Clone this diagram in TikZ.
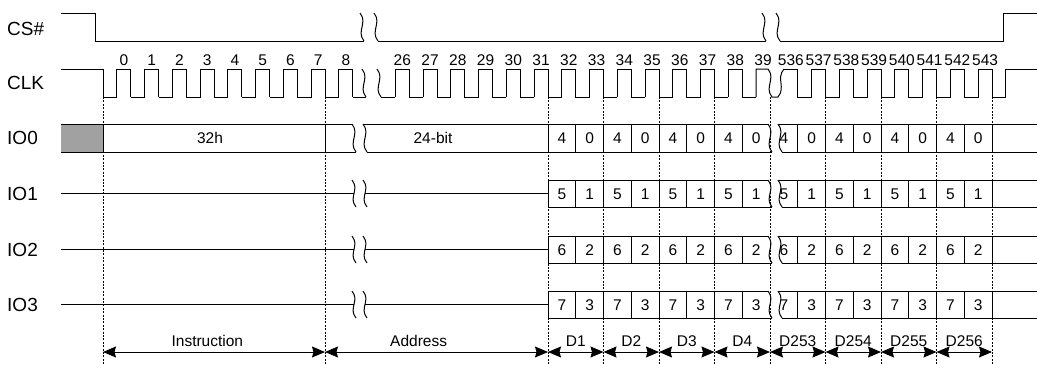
\documentclass[tikz,border=0pt]{standalone}
\usepackage{fontspec}
\setmainfont{Liberation Sans}
\usetikzlibrary{arrows.meta}

% break mark: from (x,top) to (x+4,bottom)
\newcommand{\brk}[3]{\draw[sig] (#1,#2) .. controls +(8,10) and +(-8,-10) .. (#1+4,#3);}

\begin{document}
\begin{tikzpicture}[x=1pt,y=-1pt,
  sig/.style={line width=1pt},
  grid/.style={line width=0.7pt,dash pattern=on 2pt off 1.4pt},
  lbl/.style={anchor=west,inner sep=0pt,font=\fontsize{19}{20}\selectfont},
  num/.style={inner sep=0pt,anchor=base,font=\fontsize{15.5}{16}\selectfont},
  span/.style={line width=1pt,{Stealth[length=13pt,width=11pt,inset=1.5pt]}-{Stealth[length=13pt,width=11pt,inset=1.5pt]}}]
\useasboundingbox (0,0) rectangle (1037,365);

% signal names
\node[lbl] (cs) at (7,29) {CS\#};
\node[lbl] (clk) at (7,83) {CLK};
\node[lbl] (io0) at (7,138) {IO0};
\node[lbl] (io1) at (7,193.5) {IO1};
\node[lbl] (io2) at (7,249.5) {IO2};
\node[lbl] (io3) at (7,304.5) {IO3};

% dotted guides
\foreach \x in {103,325,548,603.5,659,714.5,770,825.5,881,936.5,992}
  \draw[grid] (\x,97) -- (\x,365);

% CS#
\draw[sig] (61,13) -- (95,13) -- (95,41) -- (364,41);
\brk{360}{13}{41}
\brk{374}{13}{41}
\draw[sig] (378,41) -- (766,41);
\brk{762}{13}{41}
\brk{776}{13}{41}
\draw[sig] (780,41) -- (1003,41) -- (1003,13) -- (1037,13);

% CLK
\draw[sig] (61,69) -- (103,69) -- (103,97);
\foreach \k in {0,...,8} {
  \pgfmathsetmacro\f{103+(\k+1)*27.75}
  \draw[sig] (\f-27.75,97) -- (\f-13.875,97) -- (\f-13.875,69) -- (\f,69) -- (\f,97);
  \node[num] (c\k) at (\f-6.94,65.5) {\k};
}
\draw[sig] (352.75,97) -- (366,97);
\brk{362}{69}{97}
\brk{377}{69}{97}
\draw[sig] (381,97) -- (395.4,97);
\foreach \k in {26,...,38} {
  \pgfmathsetmacro\f{548+(\k-31)*27.75}
  \draw[sig] (\f-13.875,97) -- (\f-13.875,69) -- (\f,69) -- (\f,97) -- (\f+13.875,97);
  \node[num] (c\k) at (\f-6.94,65.5) {\k};
}
\draw[sig] (756.1,97) -- (756.1,69) -- (768,69) .. controls +(8,10) and +(-8,-10) .. (772,97)
  -- (778,97) .. controls +(8,-10) and +(-8,10) .. (783.9,69);
\node[num] (c39) at (763.1,65.5) {39};
\foreach \k in {536,...,543} {
  \pgfmathsetmacro\f{770+(\k-535)*27.75}
  \draw[sig] (\f-13.875,69) -- (\f,69) -- (\f,97) -- (\f+13.875,97) -- (\f+13.875,69);
  \node[num] (c\k) at (\f-6.94,65.5) {\k};
}
\draw[sig] (1005.9,69) -- (1037,69);

% IO0 before data
\fill[black!37] (61,124) rectangle (103,152);
\draw[sig] (61,124) -- (352,124);
\draw[sig] (61,152) -- (356,152);
\draw[sig] (103,124) -- (103,152);
\draw[sig] (325,124) -- (325,152);
\brk{352}{124}{152}
\brk{363}{124}{152}
\draw[sig] (363,124) -- (548,124);
\draw[sig] (367,152) -- (548,152);
\node[num] (cmd) at (210,143.5) {32h};
\node[num] (adr) at (433,143.5) {24-bit};

% IO1-IO3 before data
\foreach \t/\m/\b in {180/193.5/207,236/249.5/263,291/304.5/318} {
  \draw[sig] (61,\m) -- (354,\m);
  \brk{352}{\t}{\b}
  \brk{363}{\t}{\b}
  \draw[sig] (365,\m) -- (548,\m);
}

% data cells
\foreach \t/\b/\hi/\lo in {124/152/4/0,180/207/5/1,236/263/6/2,291/318/7/3} {
  \draw[sig] (548,\t) -- (768,\t);
  \draw[sig] (548,\b) -- (772,\b);
  \brk{768}{\t}{\b}
  \brk{778}{\t}{\b}
  \draw[sig] (778,\t) -- (1037,\t);
  \draw[sig] (782,\b) -- (1037,\b);
  \foreach \i in {0,...,7} {
    \pgfmathsetmacro\xa{548+\i*27.75}
    \pgfmathsetmacro\xb{797.75+\i*27.75}
    \draw[sig] (\xa,\t) -- (\xa,\b);
    \draw[sig] (\xb,\t) -- (\xb,\b);
    \pgfmathtruncatemacro\d{mod(\i,2)==0 ? \hi : \lo}
    \node[num] at (\xa+13.875,{(\t+\b)/2+5.5}) {\d};
    \node[num] at (\xb-13.875,{(\t+\b)/2+5.5}) {\d};
  }
}

% phases
\coordinate (p0) at (103,352);
\coordinate (p1) at (325,352);
\coordinate (p2) at (548,352);
\coordinate (p3) at (603.5,352);
\coordinate (p4) at (659,352);
\coordinate (p5) at (714.5,352);
\coordinate (p6) at (770,352);
\coordinate (p7) at (825.5,352);
\coordinate (p8) at (881,352);
\coordinate (p9) at (936.5,352);
\coordinate (p10) at (992,352);
\draw[span] (p0) -- (p1) node[num,pos=0.47,yshift=6pt] {Instruction};
\draw[span] (p1) -- (p2) node[num,pos=0.42,yshift=6pt] {Address};
\draw[span] (p2) -- (p3) node[num,midway,yshift=6pt] {D1};
\draw[span] (p3) -- (p4) node[num,midway,yshift=6pt] {D2};
\draw[span] (p4) -- (p5) node[num,midway,yshift=6pt] {D3};
\draw[span] (p5) -- (p6) node[num,midway,yshift=6pt] {D4};
\draw[span] (p6) -- (p7) node[num,midway,yshift=6pt] {D253};
\draw[span] (p7) -- (p8) node[num,midway,yshift=6pt] {D254};
\draw[span] (p8) -- (p9) node[num,midway,yshift=6pt] {D255};
\draw[span] (p9) -- (p10) node[num,midway,yshift=6pt] {D256};
\end{tikzpicture}
\end{document}
